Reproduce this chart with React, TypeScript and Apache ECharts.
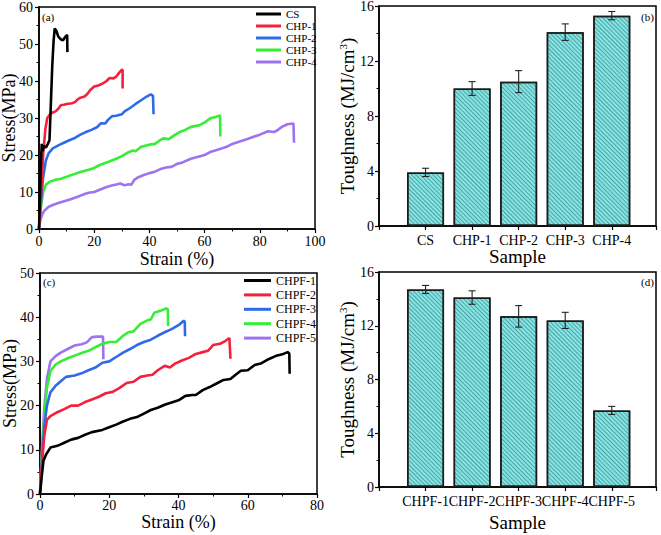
import React, { useEffect, useRef } from "react";
import * as echarts from "echarts";

// ---------- data ----------
const seriesNamesA = ["CS", "CHP-1", "CHP-2", "CHP-3", "CHP-4"];
const seriesNamesC = ["CHPF-1", "CHPF-2", "CHPF-3", "CHPF-4", "CHPF-5"];
const curveColors = ["#000000", "#f5203c", "#2f6ae8", "#35ee35", "#9f72f2"];

const csCurve = [[0,0],[0.3,8],[0.7,18],[1,23],[1.3,21],[1.8,22.5],[2.5,22],[3.2,23],[3.8,24],[4.2,32],[4.8,44],[5.3,51],[5.7,54.2],[6.3,53.5],[7,52],[8,51.2],[8.7,51],[9.3,51.7],[10.2,52.5],[10.3,47.8]];
const chp1Curve = [[0,0],[0.8,10],[1.5,20],[2.3,27],[3,30],[4,31],[5,31.5],[6,31.8],[7,32.5],[8,33.5],[9,33.6],[10,33.8],[12,34],[13,34.3],[14,35],[15,35.5],[16.5,35.8],[17.5,36.5],[18.5,37.5],[20,38.5],[21.5,38.8],[23,39.3],[24.5,40],[25.5,40.8],[27,40.7],[28,41.2],[29,42.2],[30,43],[30.3,43],[30.3,38]];
const chp2Curve = [[0,0],[0.8,8],[1.5,14],[2.5,18.5],[3.5,20.5],[5,21.8],[7,22.6],[9,23.3],[11,24],[13,24.6],[15,25.5],[17,26.2],[19,26.8],[21,27.5],[22.5,28.6],[24,28.5],[25,29.5],[26.5,30.5],[28,30.6],[30,31],[31,31.8],[33,32.7],[35,33.8],[37,34.8],[39,35.8],[40.5,36.4],[41.3,36],[41.5,31]];
const chp3Curve = [[0,0],[0.7,6],[1.5,10],[2.5,12],[4,12.8],[6,13.3],[8,13.6],[10,14.1],[13,14.9],[15,15.4],[18,16],[20,16.5],[22,17.3],[25,18.1],[28,19],[30,19.7],[32,20.6],[34,21.2],[35,21],[37,22.2],[40,22.8],[42,23],[43.5,23.8],[45,24.5],[47,24.3],[49,25.3],[51,26.2],[53,26.8],[55,27.6],[58,28],[60,28.8],[62,29.9],[64,30.3],[65.6,30.7],[65.7,25]];
const chp4Curve = [[0,0],[0.5,2.5],[1.2,4],[2,5],[3.5,6],[5,6.5],[7,7],[10,7.7],[12,8.2],[14,8.7],[16,9.3],[18,9.8],[20,10],[22,10.6],[24,11.2],[26,11.7],[28,12],[29.5,12.3],[31,11.8],[32.5,12.1],[33.5,12],[34.5,13.3],[36,14],[38,14.6],[40,15.1],[42,15.5],[44,16.2],[46,16.6],[48,16.8],[50,17.6],[52,18],[55,19],[58,19.6],[60,20],[62,20.8],[65,21.5],[68,22.2],[70,23],[73,23.7],[75,24.2],[78,25],[80,25.5],[83,26.4],[85,26.2],[86,26.5],[88,27.6],[90,28.3],[92.2,28.5],[92.4,23.3]];

const chpf1Curve = [[0,0],[0.5,4],[1,7.5],[1.8,9],[3,10.5],[5,10.9],[7,11.6],[9,12.3],[11,12.7],[13,13.4],[15,14],[18,14.5],[20,15.1],[22,15.7],[24,16.4],[26,17],[28,17.4],[30,18.2],[32,19],[34,19.5],[36,20.2],[38,20.7],[40,21.2],[42,22.2],[44,22.4],[45,22.4],[47,23.5],[49,24.2],[51,25],[53,25.8],[55,26],[56.5,27],[58,27.9],[60,28],[62,29.2],[64,29.6],[66,30.5],[68,31.2],[70,31.6],[71.5,32.1],[72,31.8],[72.1,27.2]];
const chpf2Curve = [[0,0],[0.6,7],[1.2,13],[2,16.8],[3,17.6],[5,18.5],[7,19.2],[9,20],[11,20],[13,20.8],[15,21.4],[17,22],[19,22.8],[21,23.1],[23,24],[25,25.1],[27,25.4],[29,26.5],[31,26.8],[32.5,27],[34,28],[36,29],[37.5,28.6],[39,29.5],[41,30.2],[43,30.8],[45,31.7],[47,32.1],[48.5,32.4],[50,33.7],[52,34],[53.5,34.6],[54.7,35.3],[55,30.6]];
const chpf3Curve = [[0,0],[0.5,7],[1.2,15],[2,20],[3,23],[4.5,24.5],[6,25.5],[7.5,26.5],[10,26.8],[12,27.3],[14,28],[16,28.6],[18,29.7],[20,30],[22,31],[24,32],[26,32.8],[28,33.7],[30,34.4],[32,34.9],[34,35.8],[36,36.6],[38,37.3],[40,38.2],[41.5,39.2],[41.8,39],[41.9,35.7]];
const chpf4Curve = [[0,0],[0.5,8],[1.2,17],[2,24],[3,27.8],[4.5,29.3],[6,30],[8,30.7],[10,31.3],[12,31.9],[14,32.4],[16,33.2],[18,34],[20,34.4],[22,34.4],[24,35.8],[25.5,36.6],[27,36.8],[29,38.5],[31,39.3],[32,39.5],[33,41],[35,41.5],[36.5,42],[36.9,41.8],[37,38]];
const chpf5Curve = [[0,0],[0.5,9],[1.2,19],[2,26],[3,30],[4.5,31.2],[6,32],[8,32.8],[10,33.6],[12,33.9],[13.5,34.3],[15,35.5],[16.5,35.6],[18.2,35.6],[18.3,30.5]];

const curvesA = [csCurve, chp1Curve, chp2Curve, chp3Curve, chp4Curve];
const curvesC = [chpf1Curve, chpf2Curve, chpf3Curve, chpf4Curve, chpf5Curve];

const samplesB = ["CS", "CHP-1", "CHP-2", "CHP-3", "CHP-4"];
const toughnessB = [3.9, 10.0, 10.5, 14.1, 15.3];
const errorB = [0.3, 0.5, 0.8, 0.6, 0.3];

const samplesD = ["CHPF-1", "CHPF-2", "CHPF-3", "CHPF-4", "CHPF-5"];
const toughnessD = [14.7, 14.1, 12.7, 12.4, 5.7];
const errorD = [0.3, 0.5, 0.8, 0.6, 0.3];

// ---------- style ----------
const FONT = "'Times New Roman', 'Liberation Serif', serif";

function lineAxisX(gridIndex: number, max: number, nameGap: number, labelMargin: number) {
  return {
    type: "value", gridIndex, min: 0, max, interval: 20,
    name: "Strain (%)", nameLocation: "middle", nameGap, nameMoveOverlap: false,
    nameTextStyle: { fontFamily: FONT, fontSize: 18, color: "#000" },
    axisLine: { show: true, onZero: false, lineStyle: { color: "#000", width: 1.5 } },
    axisTick: { show: true, length: 4, lineStyle: { color: "#000", width: 1.2 } },
    minorTick: { show: true, splitNumber: 2, length: 2.5, lineStyle: { color: "#000", width: 1 } },
    splitLine: { show: false },
    axisLabel: { fontFamily: FONT, fontSize: 14, color: "#000", margin: labelMargin },
  };
}
function lineAxisY(gridIndex: number, max: number) {
  return {
    type: "value", gridIndex, min: 0, max, interval: 10,
    name: "Stress(MPa)", nameLocation: "middle", nameGap: 21, nameMoveOverlap: false,
    nameTextStyle: { fontFamily: FONT, fontSize: 18, color: "#000" },
    axisLine: { show: true, onZero: false, lineStyle: { color: "#000", width: 1.5 } },
    axisTick: { show: true, length: 4, lineStyle: { color: "#000", width: 1.2 } },
    minorTick: { show: true, splitNumber: 2, length: 2.5, lineStyle: { color: "#000", width: 1 } },
    splitLine: { show: false },
    axisLabel: { fontFamily: FONT, fontSize: 14, color: "#000", margin: 6 },
  };
}
function barAxisX(gridIndex: number, cats: string[], nameGap: number) {
  return {
    type: "value", gridIndex, min: 0, max: 5.95, interval: 1,
    name: "Sample", nameLocation: "middle", nameGap, nameMoveOverlap: false,
    nameTextStyle: { fontFamily: FONT, fontSize: 19, color: "#000" },
    axisLine: { show: true, onZero: false, lineStyle: { color: "#000", width: 1.5 } },
    axisTick: { show: true, length: 4, lineStyle: { color: "#000", width: 1.2 } },
    splitLine: { show: false },
    axisLabel: {
      fontFamily: FONT, fontSize: 14, color: "#000", margin: 7,
      showMinLabel: true, showMaxLabel: true,
      formatter: (v: number) => {
        const i = Math.round(v) - 1;
        return Math.abs(v - Math.round(v)) < 1e-6 && cats[i] ? cats[i] : "";
      },
    },
  };
}
function barAxisY(gridIndex: number) {
  return {
    type: "value", gridIndex, min: 0, max: 16, interval: 4,
    name: "{t|Toughness (MJ/cm}{s|3}{t|)}", nameLocation: "middle", nameGap: 22, nameMoveOverlap: false,
    nameTextStyle: {
      color: "#000",
      rich: {
        t: { fontFamily: FONT, fontSize: 19, color: "#000" },
        s: { fontFamily: FONT, fontSize: 11, color: "#000", verticalAlign: "top", padding: [0, 0, 9, 0] },
      },
    },
    axisLine: { show: true, onZero: false, lineStyle: { color: "#000", width: 1.5 } },
    axisTick: { show: true, length: 4, lineStyle: { color: "#000", width: 1.2 } },
    minorTick: { show: true, splitNumber: 2, length: 2.5, lineStyle: { color: "#000", width: 1 } },
    splitLine: { show: false },
    axisLabel: { fontFamily: FONT, fontSize: 14, color: "#000", margin: 5 },
  };
}

function lineSeries(names: string[], curves: number[][][], axisIndex: number) {
  return names.map((n, i) => ({
    type: "line", name: n, xAxisIndex: axisIndex, yAxisIndex: axisIndex,
    data: curves[i], showSymbol: false, symbol: "none",
    lineStyle: { color: curveColors[i], width: 2.6 },
    itemStyle: { color: curveColors[i] },
    z: 2 + (names.length - i),
  }));
}

const barItemStyle = {
  color: "#86e4e4",
  borderColor: "#1b1b1b",
  borderWidth: 1.5,
  decal: {
    symbol: "rect",
    symbolSize: 1,
    dashArrayX: [1, 0],
    dashArrayY: [1, 2],
    rotation: Math.PI / 4,
    color: "rgba(35,110,110,0.55)",
  },
};

function barSeries(values: number[], axisIndex: number) {
  return {
    type: "bar", xAxisIndex: axisIndex, yAxisIndex: axisIndex,
    data: values.map((v, i) => [i + 1, v]),
    barWidth: 37,
    itemStyle: barItemStyle,
    z: 2,
  };
}
function errSeries(values: number[], errs: number[], axisIndex: number) {
  return {
    type: "custom", xAxisIndex: axisIndex, yAxisIndex: axisIndex, z: 5,
    data: values.map((v, i) => [i + 1, v, errs[i]]),
    encode: { x: 0, y: 1 },
    renderItem: (params: any, api: any) => {
      const x = api.value(0), v = api.value(1), e = api.value(2);
      const top = api.coord([x, v + e]);
      const bot = api.coord([x, v - e]);
      const w = 3.5;
      const st = { stroke: "#222", lineWidth: 1.1 };
      return {
        type: "group",
        children: [
          { type: "line", shape: { x1: top[0], y1: top[1], x2: bot[0], y2: bot[1] }, style: st },
          { type: "line", shape: { x1: top[0] - w, y1: top[1], x2: top[0] + w, y2: top[1] }, style: st },
          { type: "line", shape: { x1: bot[0] - w, y1: bot[1], x2: bot[0] + w, y2: bot[1] }, style: st },
        ],
      };
    },
  };
}

const gridBase = {
  show: true, borderColor: "#000", borderWidth: 1.5, backgroundColor: "transparent",
  containLabel: false, outerBoundsMode: "none",
};

export default function App() {
  const ref = useRef<HTMLDivElement>(null);
  useEffect(() => {
    if (!ref.current) return;
    const chart = echarts.init(ref.current, undefined, { renderer: "svg" });
    const option: any = {
      animation: false,
      backgroundColor: "#fff",
      grid: [
        { ...gridBase, left: 39, top: 7, width: 276, height: 222 },
        { ...gridBase, left: 379, top: 6, width: 277, height: 220 },
        { ...gridBase, left: 40, top: 273, width: 277, height: 221 },
        { ...gridBase, left: 379, top: 272, width: 277, height: 215 },
      ],
      xAxis: [
        lineAxisX(0, 100, 21, 5),
        barAxisX(1, samplesB, 21),
        lineAxisX(2, 80, 19, 4),
        barAxisX(3, samplesD, 26),
      ],
      yAxis: [lineAxisY(0, 60), barAxisY(1), lineAxisY(2, 50), barAxisY(3)],
      legend: [
        {
          data: seriesNamesA, orient: "vertical", left: 256, top: 8, padding: 0,
          itemWidth: 25, itemHeight: 3, itemGap: 0, icon: "rect",
          textStyle: { fontFamily: FONT, fontSize: 11, color: "#000", lineHeight: 12 },
        },
        {
          data: seriesNamesC, orient: "vertical", left: 244, top: 273.5, padding: 0,
          itemWidth: 27, itemHeight: 3, itemGap: 0.4, icon: "rect",
          textStyle: { fontFamily: FONT, fontSize: 12, color: "#000", lineHeight: 14 },
        },
      ],
      graphic: [
        { type: "text", left: 42, top: 11, style: { text: "(a)", font: `11px ${FONT}`, fill: "#000" } },
        { type: "text", left: 641, top: 11, style: { text: "(b)", font: `11px ${FONT}`, fill: "#000" } },
        { type: "text", left: 43, top: 276, style: { text: "(c)", font: `11px ${FONT}`, fill: "#000" } },
        { type: "text", left: 641, top: 276, style: { text: "(d)", font: `11px ${FONT}`, fill: "#000" } },
      ],
      series: [
        ...lineSeries(seriesNamesA, curvesA, 0),
        barSeries(toughnessB, 1),
        errSeries(toughnessB, errorB, 1),
        ...lineSeries(seriesNamesC, curvesC, 2),
        barSeries(toughnessD, 3),
        errSeries(toughnessD, errorD, 3),
      ],
    };
    chart.setOption(option);
    return () => chart.dispose();
  }, []);
  return <div ref={ref} style={{ position: "absolute", left: 0, top: 0, width: 661, height: 535 }} />;
}
